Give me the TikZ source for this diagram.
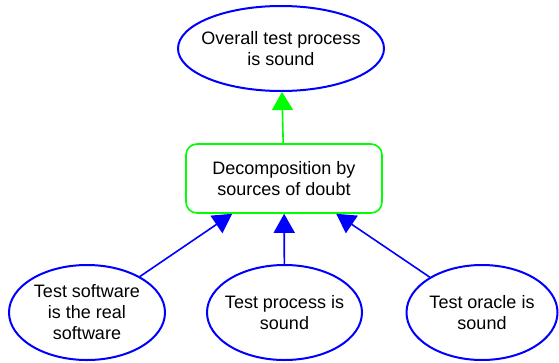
\documentclass[tikz,border=0pt]{standalone}
\usepackage{fontspec}
\setmainfont{Liberation Sans}
\usetikzlibrary{shapes.geometric,arrows.meta}
\definecolor{myblue}{RGB}{0,0,255}
\definecolor{mygreen}{RGB}{0,255,0}
\begin{document}
\begin{tikzpicture}[x=1pt,y=-1pt,
  txt/.style={font=\fontsize{18}{21}\selectfont, align=center, text=black},
  ell/.style={ellipse, draw=myblue, line width=2pt, inner sep=0pt},
  boxn/.style={rectangle, rounded corners=11pt, draw=mygreen, line width=1.6pt, inner sep=0pt, minimum width=196pt, minimum height=69pt, txt},
  barrow/.style={draw=myblue, line width=1.6pt, -{Triangle[length=19pt,width=21pt]}},
  garrow/.style={draw=mygreen, line width=1.6pt, -{Triangle[length=18pt,width=21pt]}}
]
\useasboundingbox (0,0) rectangle (559,362);
\node[ell, minimum width=206pt, minimum height=85pt] (top) at (281,48.5) {};
\node[txt] (toptxt) at (top) {Overall test process\\is sound};
\node[boxn] (mid) at (284,178.5) {Decomposition by\\sources of doubt};
\node[ell, minimum width=156pt, minimum height=95pt] (l) at (87,312.5) {};
\node[txt] (ltxt) at (l) {Test software\\is the real\\software};
\node[ell, minimum width=155pt, minimum height=95pt] (m) at (284.5,312.5) {};
\node[txt] (mtxt) at (m) {Test process is\\sound};
\node[ell, minimum width=151pt, minimum height=95pt] (r) at (482,312.5) {};
\node[txt] (rtxt) at (r) {Test oracle is\\sound};
\draw[garrow] (mid) -- (top);
\draw[barrow] (l) -- (mid);
\draw[barrow] (m) -- (mid);
\draw[barrow] (r) -- (mid);
\end{tikzpicture}
\end{document}
